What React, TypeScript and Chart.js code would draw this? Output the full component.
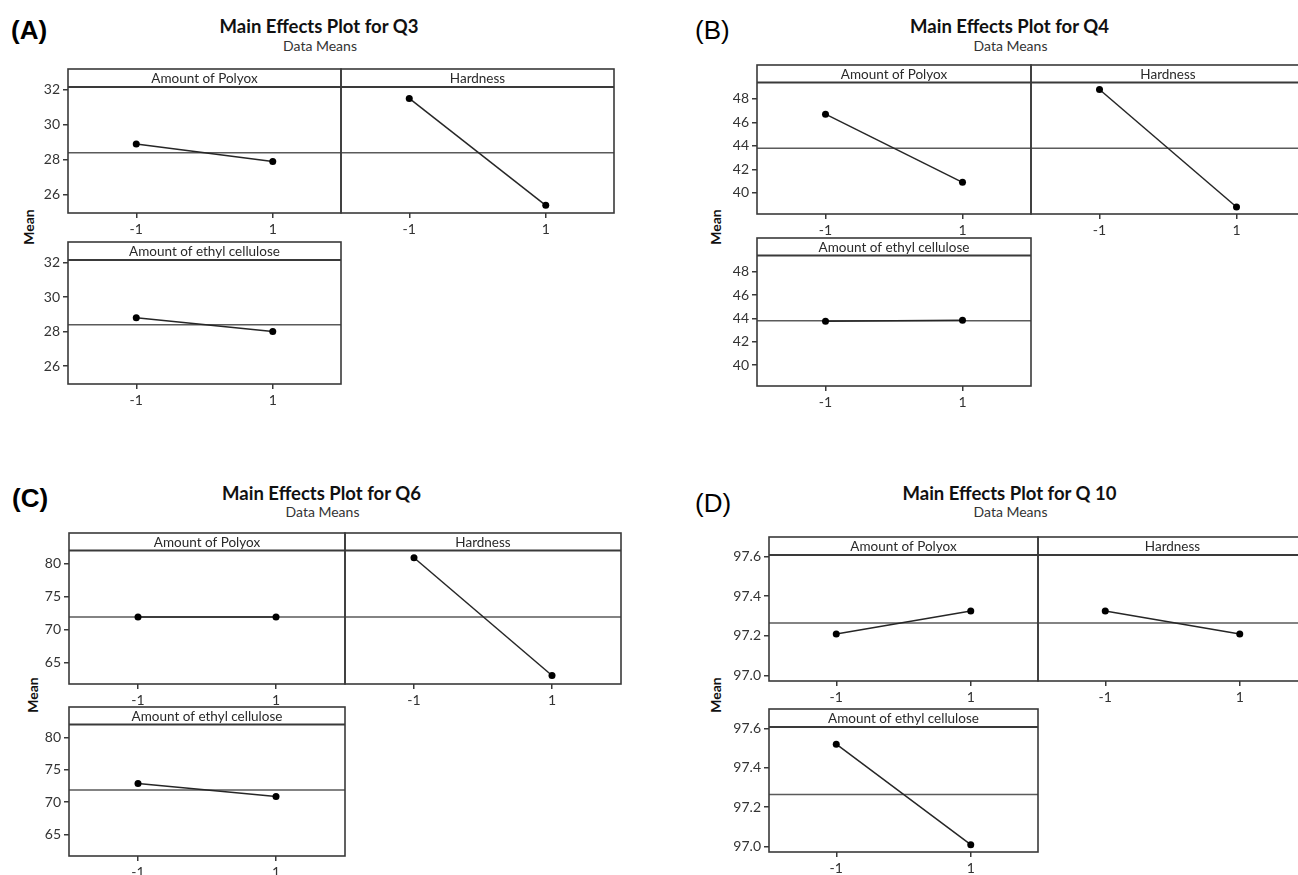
import React, { useEffect, useRef } from "react";
import { Chart, registerables } from "chart.js";

Chart.register(...registerables);

// ---------- data ----------
const levels = [-1, 1];
const factorNames = ["Amount of Polyox", "Hardness", "Amount of ethyl cellulose"];

const q3Polyox = [28.9, 27.9];
const q3Hardness = [31.5, 25.4];
const q3Ethyl = [28.8, 28.0];
const q3Mean = 28.4;
const q3Ticks = [26, 28, 30, 32];

const q4Polyox = [46.7, 40.9];
const q4Hardness = [48.8, 38.8];
const q4Ethyl = [43.75, 43.85];
const q4Mean = 43.8;
const q4Ticks = [40, 42, 44, 46, 48];

const q6Polyox = [71.9, 71.9];
const q6Hardness = [80.9, 63.0];
const q6Ethyl = [72.9, 70.9];
const q6Mean = 71.9;
const q6Ticks = [65, 70, 75, 80];

const q10Polyox = [97.21, 97.325];
const q10Hardness = [97.325, 97.21];
const q10Ethyl = [97.52, 97.01];
const q10Mean = 97.265;
const q10Ticks = [97.0, 97.2, 97.4, 97.6];

// ---------- layout ----------
type Panel = {
  letter: string;
  letterBold: boolean;
  title: string;
  series: number[][];
  mean: number;
  ticks: number[];
  dec: number;
  yMin: number;
  yMax: number;
  left: number;
  colW: number;
  r1Top: number;
  r1Bot: number;
  r2Top: number;
  r2Bot: number;
  strip: number;
  letterPos: [number, number];
  titlePos: [number, number];
  subPos: [number, number];
  meanPos: [number, number];
};

const panels: Panel[] = [
  {
    letter: "(A)", letterBold: true, title: "Main Effects Plot for Q3",
    series: [q3Polyox, q3Hardness, q3Ethyl], mean: q3Mean, ticks: q3Ticks, dec: 0,
    yMin: 24.96, yMax: 32.15,
    left: 68, colW: 273, r1Top: 69, r1Bot: 213.3, r2Top: 242, r2Bot: 384, strip: 18,
    letterPos: [11, 30], titlePos: [319, 26], subPos: [320, 46], meanPos: [28.5, 227],
  },
  {
    letter: "(B)", letterBold: false, title: "Main Effects Plot for Q4",
    series: [q4Polyox, q4Hardness, q4Ethyl], mean: q4Mean, ticks: q4Ticks, dec: 0,
    yMin: 38.2, yMax: 49.4,
    left: 757, colW: 274, r1Top: 65, r1Bot: 213.5, r2Top: 237.5, r2Bot: 385, strip: 17.5,
    letterPos: [695, 30], titlePos: [1009.5, 26], subPos: [1010.5, 45.5], meanPos: [716, 227],
  },
  {
    letter: "(C)", letterBold: true, title: "Main Effects Plot for Q6",
    series: [q6Polyox, q6Hardness, q6Ethyl], mean: q6Mean, ticks: q6Ticks, dec: 0,
    yMin: 61.7, yMax: 82.0,
    left: 69, colW: 275.5, r1Top: 532.5, r1Bot: 683.5, r2Top: 706.5, r2Bot: 855.5, strip: 17.5,
    letterPos: [12, 498], titlePos: [321.5, 493], subPos: [322.5, 512], meanPos: [32.5, 695],
  },
  {
    letter: "(D)", letterBold: false, title: "Main Effects Plot for Q 10",
    series: [q10Polyox, q10Hardness, q10Ethyl], mean: q10Mean, ticks: q10Ticks, dec: 1,
    yMin: 96.973, yMax: 97.607,
    left: 769, colW: 268.5, r1Top: 536.5, r1Bot: 680, r2Top: 708.5, r2Bot: 851.5, strip: 18,
    letterPos: [695, 503], titlePos: [1009.5, 493], subPos: [1010.5, 512], meanPos: [716, 695],
  },
];

const FONT = "Lato, 'Open Sans', sans-serif";
const FRAME = "#3a3a3a";
const PAD_L = 62;
const PAD_R = 4;
const PAD_T = 2;
const PAD_B = 30;

type SubProps = {
  label: string;
  values: number[];
  mean: number;
  ticks: number[];
  dec: number;
  yMin: number;
  yMax: number;
  showY: boolean;
  left: number;
  top: number;
  width: number;
  height: number;
  strip: number;
};

function SubPlot(p: SubProps) {
  const ref = useRef<HTMLCanvasElement | null>(null);
  const cw = Math.round(p.width + PAD_L + PAD_R);
  const ch = Math.round(p.height + PAD_T + PAD_B);

  useEffect(() => {
    if (!ref.current) return;
    const framePlugin = {
      id: "frameStrip",
      afterDraw(chart: any) {
        const { ctx, chartArea: a } = chart;
        const top = a.top - p.strip;
        ctx.save();
        ctx.strokeStyle = FRAME;
        ctx.lineWidth = 1.6;
        ctx.strokeRect(a.left, top, a.right - a.left, a.bottom - top);
        ctx.lineWidth = 2;
        ctx.beginPath();
        ctx.moveTo(a.left, a.top);
        ctx.lineTo(a.right, a.top);
        ctx.stroke();
        ctx.fillStyle = "#2a2a2a";
        ctx.font = `13.5px ${FONT}`;
        ctx.textAlign = "center";
        ctx.textBaseline = "middle";
        ctx.fillText(p.label, (a.left + a.right) / 2, top + p.strip / 2 + 0.5);
        ctx.restore();
      },
    };

    const chart = new Chart(ref.current, {
      type: "line",
      data: {
        datasets: [
          {
            data: levels.map((x, i) => ({ x, y: p.values[i] })),
            borderColor: "#262626",
            borderWidth: 1.5,
            pointRadius: 3.5,
            pointBackgroundColor: "#000",
            pointBorderColor: "#000",
            pointBorderWidth: 0,
            tension: 0,
          },
          {
            data: [
              { x: -2, y: p.mean },
              { x: 2, y: p.mean },
            ],
            borderColor: "#5a5a5a",
            borderWidth: 1.5,
            pointRadius: 0,
            tension: 0,
          },
        ],
      },
      options: {
        animation: false,
        responsive: false,
        devicePixelRatio: 1,
        events: [],
        layout: { padding: { top: PAD_T + p.strip, right: PAD_R, left: 0, bottom: 0 } },
        plugins: { legend: { display: false }, tooltip: { enabled: false }, title: { display: false } },
        scales: {
          x: {
            type: "linear",
            min: -2,
            max: 2,
            afterBuildTicks: (s: any) => {
              s.ticks = levels.map((v) => ({ value: v }));
            },
            afterFit: (s: any) => {
              s.height = PAD_B;
            },
            ticks: {
              callback: (v: any) => String(v),
              font: { family: FONT, size: 14 },
              color: "#333",
              padding: 3,
              maxRotation: 0,
              autoSkip: false,
            },
            grid: {
              display: true,
              drawOnChartArea: false,
              drawTicks: true,
              tickLength: 5,
              color: FRAME,
              lineWidth: 1.5,
            },
            border: { display: false },
          },
          y: {
            type: "linear",
            min: p.yMin,
            max: p.yMax,
            afterBuildTicks: (s: any) => {
              s.ticks = p.ticks.map((v) => ({ value: v }));
            },
            afterFit: (s: any) => {
              s.width = PAD_L;
            },
            ticks: {
              display: p.showY,
              callback: (v: any) => Number(v).toFixed(p.dec),
              font: { family: FONT, size: 14 },
              color: "#333",
              padding: 3,
              autoSkip: false,
            },
            grid: {
              display: p.showY,
              drawOnChartArea: false,
              drawTicks: true,
              tickLength: 5,
              color: FRAME,
              lineWidth: 1.5,
            },
            border: { display: false },
          },
        },
      },
      plugins: [framePlugin],
    } as any);
    return () => chart.destroy();
  }, []);

  return (
    <canvas
      ref={ref}
      width={cw}
      height={ch}
      style={{
        position: "absolute",
        left: Math.round(p.left - PAD_L),
        top: Math.round(p.top - PAD_T),
        width: cw,
        height: ch,
      }}
    />
  );
}

function PanelView({ pn }: { pn: Panel }) {
  const subs = [
    { idx: 0, left: pn.left, top: pn.r1Top, bottom: pn.r1Bot, showY: true },
    { idx: 1, left: pn.left + pn.colW, top: pn.r1Top, bottom: pn.r1Bot, showY: false },
    { idx: 2, left: pn.left, top: pn.r2Top, bottom: pn.r2Bot, showY: true },
  ];
  return (
    <>
      <div
        style={{
          position: "absolute",
          left: pn.letterPos[0],
          top: pn.letterPos[1] - 14,
          fontFamily: "'Liberation Sans', Arial, sans-serif",
          fontWeight: pn.letterBold ? 700 : 400,
          fontSize: 26,
          lineHeight: "28px",
          color: "#000",
          whiteSpace: "nowrap",
        }}
      >
        {pn.letter}
      </div>
      <div
        style={{
          position: "absolute",
          left: pn.titlePos[0],
          top: pn.titlePos[1],
          transform: "translate(-50%, -50%)",
          fontFamily: FONT,
          fontWeight: 700,
          fontSize: 18.5,
          lineHeight: "22px",
          color: "#111",
          whiteSpace: "nowrap",
        }}
      >
        {pn.title}
      </div>
      <div
        style={{
          position: "absolute",
          left: pn.subPos[0],
          top: pn.subPos[1],
          transform: "translate(-50%, -50%)",
          fontFamily: FONT,
          fontSize: 14,
          lineHeight: "16px",
          color: "#333",
          whiteSpace: "nowrap",
        }}
      >
        Data Means
      </div>
      <div
        style={{
          position: "absolute",
          left: pn.meanPos[0],
          top: pn.meanPos[1],
          transform: "translate(-50%, -50%) rotate(-90deg)",
          fontFamily: FONT,
          fontWeight: 700,
          fontSize: 14,
          lineHeight: "16px",
          color: "#111",
          whiteSpace: "nowrap",
        }}
      >
        Mean
      </div>
      {subs.map((s) => (
        <SubPlot
          key={s.idx}
          label={factorNames[s.idx]}
          values={pn.series[s.idx]}
          mean={pn.mean}
          ticks={pn.ticks}
          dec={pn.dec}
          yMin={pn.yMin}
          yMax={pn.yMax}
          showY={s.showY}
          left={s.left}
          top={s.top}
          width={pn.colW}
          height={s.bottom - s.top}
          strip={pn.strip}
        />
      ))}
    </>
  );
}

export default function App() {
  return (
    <div
      style={{
        position: "absolute",
        left: 0,
        top: 0,
        width: 1298,
        height: 875,
        overflow: "hidden",
        background: "#fff",
      }}
    >
      {panels.map((pn) => (
        <PanelView key={pn.letter} pn={pn} />
      ))}
    </div>
  );
}
